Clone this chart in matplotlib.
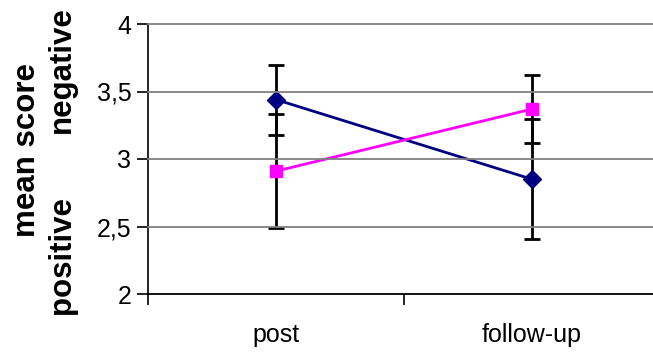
import matplotlib
matplotlib.use("Agg")
import matplotlib.pyplot as plt
from matplotlib.lines import Line2D
from matplotlib.ticker import FixedLocator, FuncFormatter

plt.rcParams['font.family'] = ['Liberation Sans', 'DejaVu Sans']

categories = ["post", "follow-up"]
series_a = [3.44, 2.85]          # navy diamonds
series_a_err = [0.26, 0.445]
series_b = [2.91, 3.37]          # magenta squares
series_b_err = [0.42, 0.25]
y_ticks = [2, 2.5, 3, 3.5, 4]

W, H = 653, 355
fig = plt.figure(figsize=(W / 100, H / 100), dpi=100)
ax = fig.add_axes([148 / W, 1 - 294 / H, 512 / W, 270 / H])

x = list(range(len(categories)))

# error bars (drawn beneath the markers)
ax.errorbar(x, series_a, yerr=series_a_err, fmt='none', ecolor='black',
            elinewidth=2, capsize=6, capthick=2, zorder=3)
ax.errorbar(x, series_b, yerr=series_b_err, fmt='none', ecolor='black',
            elinewidth=2, capsize=6, capthick=2, zorder=3)

ax.plot(x, series_a, color='#000080', lw=2, marker='D', markersize=9,
        markerfacecolor='#000080', markeredgecolor='#000080', zorder=4)
ax.plot(x, series_b, color='#FF00FF', lw=2, marker='s', markersize=9,
        markerfacecolor='#FF00FF', markeredgecolor='#FF00FF', zorder=5)

ax.set_xlim(-0.5, 1.5)
ax.set_ylim(2, 4)

ax.set_yticks(y_ticks)
ax.yaxis.set_major_formatter(FuncFormatter(lambda v, p: f"{v:g}".replace('.', ',')))

ax.set_xticks(x)
ax.set_xticklabels(categories)
ax.xaxis.set_minor_locator(FixedLocator([-0.5, 0.5, 1.5]))
ax.tick_params(axis='x', which='major', length=0, pad=21, labelsize=18)
ax.tick_params(axis='x', which='minor', length=8, width=1.2, direction='out')
ax.tick_params(axis='y', which='major', length=8, width=1.2, direction='out',
               labelsize=18, pad=4)

for side in ('top', 'right', 'bottom'):
    ax.spines[side].set_visible(False)
ax.spines['left'].set_linewidth(1.2)
ax.spines['left'].set_color('black')

# gridlines and the baseline, drawn across to the right edge of the figure
fig.canvas.draw()
x0 = ax.get_position().x0
for v in y_ticks:
    yf = fig.transFigure.inverted().transform(ax.transData.transform((0, v)))[1]
    color = 'black' if v == y_ticks[0] else '#808080'
    fig.add_artist(Line2D([x0, 1.0], [yf, yf], transform=fig.transFigure,
                          color=color, lw=1.3, zorder=1))

fig.text(27 / W, 1 - 150 / H, "mean score", rotation=90, ha='center',
         va='center', fontsize=22.5, fontweight='bold')
fig.text(62 / W, 1 - 70 / H, "negative", rotation=90, ha='center',
         va='center', fontsize=22.5, fontweight='bold')
fig.text(62 / W, 1 - 255 / H, "positive", rotation=90, ha='center',
         va='center', fontsize=22.5, fontweight='bold')

fig.savefig("out.png", dpi=100)
